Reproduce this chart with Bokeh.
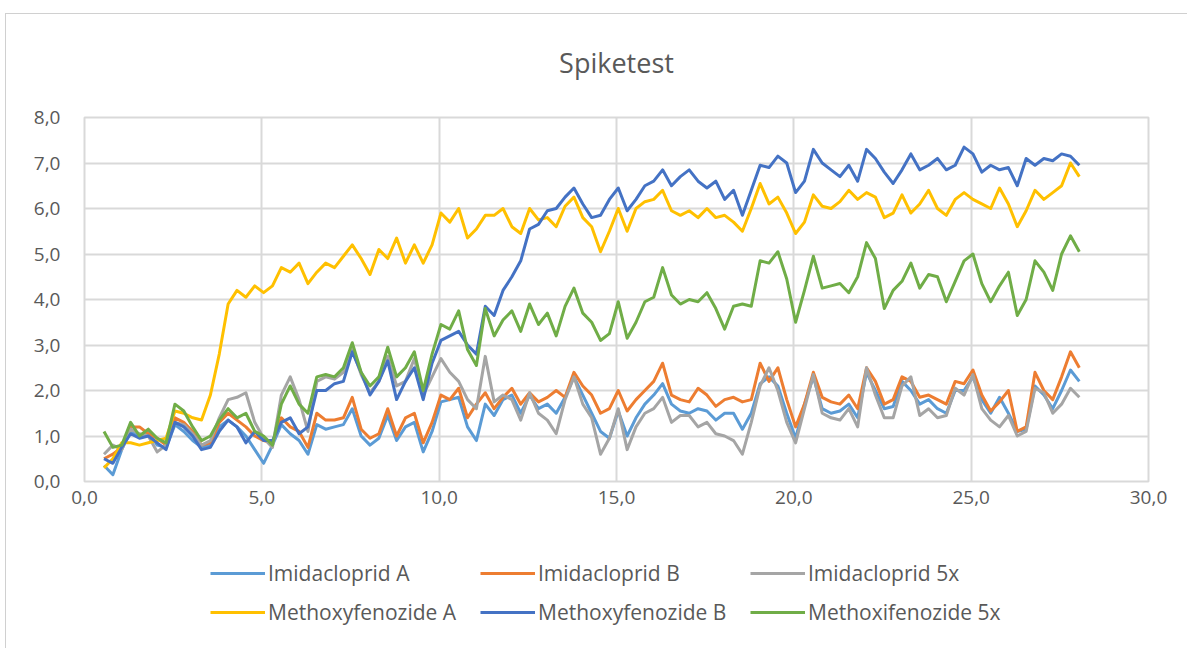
from bokeh.plotting import figure
from bokeh.layouts import column
from bokeh.models import FixedTicker, CustomJSTickFormatter, Legend, LegendItem, ColumnDataSource
from bokeh.core.properties import value
from bokeh.embed import file_html
from bokeh.resources import INLINE

title_text = "Spiketest"

# x positions of the samples (time axis)
x = [round(0.55 + 0.25 * i, 2) for i in range(111)]

imidacloprid_a = [
    0.35, 0.15, 0.7, 1.1, 1.0, 1.1, 0.8, 0.75, 1.25, 1.1,
    0.9, 0.75, 0.8, 1.2, 1.35, 1.2, 1.0, 0.7, 0.4, 0.8,
    1.25, 1.05, 0.9, 0.6, 1.25, 1.15, 1.2, 1.25, 1.6, 1.0,
    0.8, 0.95, 1.45, 0.9, 1.2, 1.3, 0.65, 1.1, 1.75, 1.8,
    1.85, 1.2, 0.9, 1.7, 1.45, 1.8, 1.9, 1.5, 1.9, 1.6,
    1.7, 1.5, 1.85, 2.3, 1.9, 1.5, 1.1, 0.95, 1.55, 1.0,
    1.4, 1.7, 1.9, 2.15, 1.7, 1.55, 1.5, 1.6, 1.55, 1.35,
    1.5, 1.5, 1.15, 1.5, 2.15, 2.3, 2.1, 1.5, 0.95, 1.7,
    2.3, 1.6, 1.5, 1.55, 1.7, 1.4, 2.4, 2.0, 1.6, 1.65,
    2.2, 2.0, 1.7, 1.8, 1.6, 1.5, 2.0, 2.0, 2.3, 1.8,
    1.5, 1.85, 1.5, 1.1, 1.15, 2.1, 1.9, 1.6, 2.0, 2.45, 2.2,
]
imidacloprid_b = [
    0.5, 0.6, 0.75, 1.2, 1.2, 1.05, 0.95, 0.8, 1.4, 1.3,
    1.1, 0.8, 0.85, 1.3, 1.5, 1.35, 1.2, 1.0, 0.9, 0.85,
    1.4, 1.2, 1.1, 0.75, 1.5, 1.35, 1.35, 1.4, 1.85, 1.15,
    0.95, 1.05, 1.6, 1.0, 1.4, 1.5, 0.85, 1.3, 1.9, 1.8,
    2.05, 1.4, 1.7, 1.95, 1.6, 1.85, 2.05, 1.7, 1.95, 1.75,
    1.85, 2.0, 1.85, 2.4, 2.1, 1.9, 1.5, 1.6, 2.0, 1.55,
    1.8, 2.0, 2.2, 2.6, 1.9, 1.8, 1.75, 2.05, 1.9, 1.65,
    1.8, 1.85, 1.75, 1.8, 2.6, 2.2, 2.5, 1.8, 1.2, 1.7,
    2.4, 1.85, 1.75, 1.7, 1.9, 1.6, 2.5, 2.2, 1.7, 1.8,
    2.3, 2.2, 1.85, 1.9, 1.8, 1.7, 2.2, 2.15, 2.45, 1.9,
    1.55, 1.75, 2.0, 1.1, 1.2, 2.4, 2.0, 1.8, 2.3, 2.85, 2.5,
]
imidacloprid_5x = [
    0.6, 0.8, 0.7, 1.15, 1.05, 1.0, 0.65, 0.8, 1.3, 1.25,
    1.05, 0.8, 0.9, 1.4, 1.8, 1.85, 1.95, 1.3, 0.95, 0.75,
    1.9, 2.3, 1.8, 1.1, 2.2, 2.3, 2.25, 2.4, 2.9, 2.35,
    1.95, 2.2, 2.75, 2.1, 2.2, 2.7, 1.9, 2.3, 2.7, 2.4,
    2.2, 1.8, 1.6, 2.75, 1.75, 1.9, 1.8, 1.35, 1.95, 1.5,
    1.35, 1.05, 1.8, 2.3, 1.7, 1.4, 0.6, 0.95, 1.6, 0.7,
    1.2, 1.5, 1.6, 1.85, 1.3, 1.45, 1.45, 1.2, 1.3, 1.05,
    1.0, 0.9, 0.6, 1.3, 2.1, 2.5, 2.0, 1.3, 0.85, 1.6,
    2.35, 1.5, 1.4, 1.35, 1.6, 1.2, 2.5, 1.9, 1.4, 1.4,
    2.1, 2.3, 1.45, 1.6, 1.4, 1.45, 2.05, 1.9, 2.35, 1.6,
    1.35, 1.2, 1.45, 1.0, 1.1, 2.05, 1.95, 1.5, 1.7, 2.05, 1.85,
]
methoxyfenozide_a = [
    0.3, 0.5, 0.85, 0.85, 0.8, 0.85, 0.9, 0.95, 1.55, 1.5,
    1.4, 1.35, 1.9, 2.8, 3.9, 4.2, 4.05, 4.3, 4.15, 4.3,
    4.7, 4.6, 4.8, 4.35, 4.6, 4.8, 4.7, 4.95, 5.2, 4.9,
    4.55, 5.1, 4.9, 5.35, 4.8, 5.2, 4.8, 5.2, 5.9, 5.7,
    6.0, 5.35, 5.55, 5.85, 5.85, 6.0, 5.6, 5.45, 6.0, 5.75,
    5.8, 5.6, 6.05, 6.25, 5.8, 5.6, 5.05, 5.5, 6.0, 5.5,
    6.0, 6.15, 6.2, 6.4, 5.95, 5.85, 5.95, 5.8, 6.0, 5.8,
    5.85, 5.7, 5.5, 6.0, 6.55, 6.1, 6.25, 5.9, 5.45, 5.7,
    6.3, 6.05, 6.0, 6.15, 6.4, 6.2, 6.35, 6.25, 5.8, 5.9,
    6.3, 5.9, 6.1, 6.4, 6.0, 5.85, 6.2, 6.35, 6.2, 6.1,
    6.0, 6.45, 6.1, 5.6, 5.95, 6.4, 6.2, 6.35, 6.5, 7.0, 6.7,
]
methoxyfenozide_b = [
    0.5, 0.4, 0.75, 1.05, 0.95, 1.0, 0.85, 0.7, 1.3, 1.2,
    1.0, 0.7, 0.75, 1.1, 1.35, 1.2, 0.85, 1.1, 0.9, 0.9,
    1.3, 1.4, 1.05, 1.2, 2.0, 2.0, 2.15, 2.2, 2.85, 2.4,
    1.9, 2.2, 2.65, 1.8, 2.2, 2.5, 1.8, 2.6, 3.1, 3.2,
    3.3, 3.0, 2.8, 3.85, 3.65, 4.2, 4.5, 4.85, 5.55, 5.65,
    5.95, 6.0, 6.25, 6.45, 6.1, 5.8, 5.85, 6.2, 6.45, 5.95,
    6.2, 6.5, 6.6, 6.85, 6.5, 6.7, 6.85, 6.6, 6.45, 6.6,
    6.2, 6.4, 5.85, 6.4, 6.95, 6.9, 7.15, 7.0, 6.35, 6.6,
    7.3, 7.0, 6.85, 6.7, 6.95, 6.6, 7.3, 7.1, 6.8, 6.55,
    6.85, 7.2, 6.85, 6.95, 7.1, 6.85, 6.95, 7.35, 7.2, 6.8,
    6.95, 6.85, 6.9, 6.5, 7.1, 6.95, 7.1, 7.05, 7.2, 7.15, 6.95,
]
methoxifenozide_5x = [
    1.1, 0.75, 0.8, 1.3, 1.0, 1.15, 0.95, 0.85, 1.7, 1.55,
    1.2, 0.9, 1.0, 1.35, 1.6, 1.4, 1.5, 1.1, 1.0, 0.8,
    1.7, 2.1, 1.7, 1.5, 2.3, 2.35, 2.3, 2.5, 3.05, 2.4,
    2.1, 2.3, 2.95, 2.3, 2.5, 2.85, 2.0, 2.8, 3.45, 3.35,
    3.75, 2.9, 2.55, 3.8, 3.2, 3.55, 3.75, 3.3, 3.9, 3.45,
    3.7, 3.2, 3.85, 4.25, 3.7, 3.5, 3.1, 3.25, 3.95, 3.15,
    3.5, 3.95, 4.05, 4.7, 4.1, 3.9, 4.0, 3.95, 4.15, 3.8,
    3.35, 3.85, 3.9, 3.85, 4.85, 4.8, 5.05, 4.45, 3.5, 4.2,
    4.95, 4.25, 4.3, 4.35, 4.15, 4.5, 5.25, 4.9, 3.8, 4.2,
    4.4, 4.8, 4.25, 4.55, 4.5, 3.95, 4.4, 4.85, 5.0, 4.35,
    3.95, 4.3, 4.6, 3.65, 4.0, 4.85, 4.6, 4.2, 5.0, 5.4, 5.05,
]

series_names = ["Imidacloprid A", "Imidacloprid B", "Imidacloprid 5x",
                "Methoxyfenozide A", "Methoxyfenozide B", "Methoxifenozide 5x"]
series_values = [imidacloprid_a, imidacloprid_b, imidacloprid_5x,
                 methoxyfenozide_a, methoxyfenozide_b, methoxifenozide_5x]
series_colors = ["#5B9BD5", "#ED7D31", "#A5A5A5", "#FFC000", "#4472C4", "#70AD47"]

x_ticks = [0, 5, 10, 15, 20, 25, 30]
y_ticks = [0, 1, 2, 3, 4, 5, 6, 7, 8]

FONT = "Open Sans"
TXT = "#595959"
GRID = "#d9d9d9"
W = 1181
H_TOP = 80
H_MAIN = 440
H_LEG = 114

# ---- title strip ----
pt = figure(width=W, height=H_TOP, x_range=(0, 30), y_range=(0, H_TOP),
            output_backend="svg", toolbar_location=None,
            min_border_left=78, min_border_right=39, min_border_top=0, min_border_bottom=0,
            background_fill_color="white", border_fill_color="white")
pt.axis.visible = False
pt.grid.visible = False
pt.outline_line_color = None
pt.text(x=[15], y=[32], text=[title_text], text_align="center", text_baseline="middle",
        text_font=value(FONT), text_font_size="27px", text_color=TXT)

# ---- main chart ----
p = figure(width=W, height=H_MAIN, x_range=(0, 30), y_range=(0, 8),
           output_backend="svg", toolbar_location=None,
           min_border_left=78, min_border_right=39,
           min_border_top=103 - H_TOP, min_border_bottom=53,
           background_fill_color="white", border_fill_color="white")

p.outline_line_color = GRID
p.outline_line_width = 2

fmt = CustomJSTickFormatter(code="return tick.toFixed(1).replace('.', ',');")
for ax, ticks in ((p.xaxis[0], x_ticks), (p.yaxis[0], y_ticks)):
    ax.ticker = FixedTicker(ticks=ticks)
    ax.formatter = fmt
    ax.axis_line_color = None
    ax.major_tick_line_color = None
    ax.minor_tick_line_color = None
    ax.major_label_text_font = FONT
    ax.major_label_text_font_size = "19px"
    ax.major_label_text_color = TXT
p.yaxis[0].major_label_standoff = 18
p.xaxis[0].major_label_standoff = 3

p.xgrid.ticker = FixedTicker(ticks=x_ticks)
p.ygrid.ticker = FixedTicker(ticks=y_ticks)
for g in (p.xgrid[0], p.ygrid[0]):
    g.grid_line_color = GRID
    g.grid_line_width = 2

for vals, col in zip(series_values, series_colors):
    src = ColumnDataSource(dict(x=x, y=vals))
    p.line("x", "y", source=src, line_color=col, line_width=3, line_join="round")

# ---- legend strip (same series styles) ----
pl = figure(width=W, height=H_LEG, x_range=(0, 1), y_range=(0, 1),
            output_backend="svg", toolbar_location=None,
            min_border_left=0, min_border_right=0, min_border_top=0, min_border_bottom=0,
            background_fill_color="white", border_fill_color="white")
pl.axis.visible = False
pl.grid.visible = False
pl.outline_line_color = None

items = []
for name, col in zip(series_names, series_colors):
    r = pl.line(x=[-3, -2], y=[-3, -3], line_color=col, line_width=3)
    items.append(LegendItem(label=name, renderers=[r]))

legend = Legend(items=items, orientation="horizontal", ncols=3,
                location=(126, 22), margin=0, padding=0, spacing=11,
                glyph_width=55, glyph_height=20, label_standoff=3,
                label_width=201, label_height=24,
                label_text_font=FONT, label_text_font_size="21px",
                label_text_color=TXT, border_line_color=None,
                background_fill_alpha=0)
pl.add_layout(legend, "center")

lay = column(pt, p, pl, spacing=0)
lay.styles = {"margin-left": "5px", "margin-top": "13px",
              "border-left": "1px solid #d0d0d0", "border-top": "1px solid #d0d0d0"}

open("out.html", "w").write(file_html(lay, INLINE))
